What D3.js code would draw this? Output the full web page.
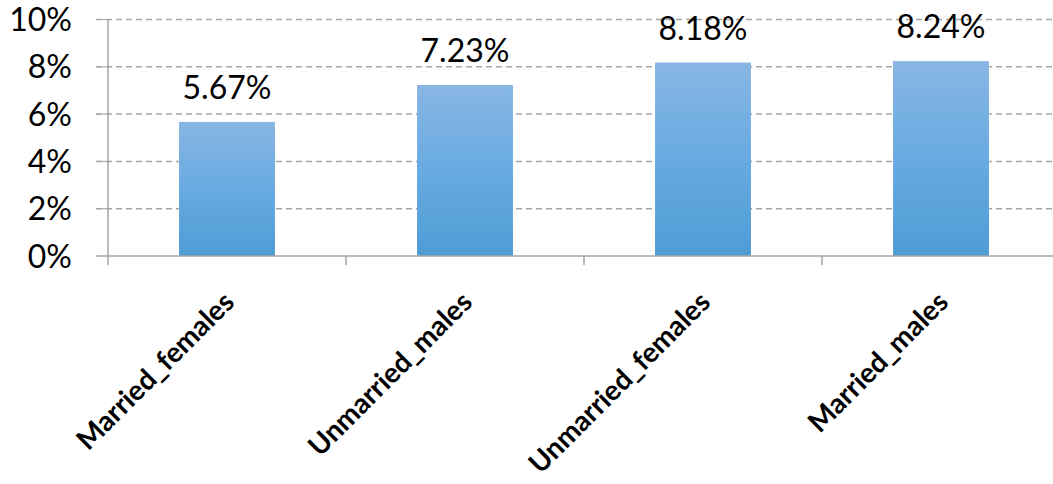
<!DOCTYPE html>
<html>
<head>
<meta charset="utf-8">
<script src="https://cdn.jsdelivr.net/npm/d3@7"></script>
<style>
  body { margin: 0; background: #fff; }
  svg text { font-family: Lato, "Open Sans", sans-serif; fill: #000; }
  .grid line { stroke: #a6a6a6; stroke-width: 1.5; stroke-dasharray: 6,4; }
  .axis path, .axis line { stroke: #a6a6a6; stroke-width: 1.5; }
  .ylabel { font-size: 32px; }
  .value { font-size: 32px; }
  .xlabel { font-size: 28px; font-weight: bold; }
</style>
</head>
<body>
<svg id="chart" width="1053" height="484"></svg>
<script>
var categories = ["Married_females", "Unmarried_males", "Unmarried_females", "Married_males"];
var values = [0.0567, 0.0723, 0.0818, 0.0824];
var valueLabels = ["5.67%", "7.23%", "8.18%", "8.24%"];
var yTicks = [0, 0.02, 0.04, 0.06, 0.08, 0.10];

var plotLeft = 108, plotRight = 1060, plotTop = 19.5, plotBottom = 256;

var svg = d3.select("#chart");

var x = d3.scaleBand()
    .domain(categories)
    .range([plotLeft, plotRight])
    .paddingInner(0.597)
    .paddingOuter(0.2985);

var y = d3.scaleLinear()
    .domain([0, 0.10])
    .range([plotBottom, plotTop]);

// bar gradient
var grad = svg.append("defs").append("linearGradient")
    .attr("id", "barGrad")
    .attr("x1", 0).attr("y1", 0).attr("x2", 0).attr("y2", 1);
grad.append("stop").attr("offset", "0%").attr("stop-color", "#88b6e3");
grad.append("stop").attr("offset", "50%").attr("stop-color", "#68aae2");
grad.append("stop").attr("offset", "100%").attr("stop-color", "#4f9cd5");

// gridlines
svg.append("g")
    .attr("class", "grid")
    .selectAll("line")
    .data(yTicks.slice(1))
    .enter().append("line")
    .attr("x1", plotLeft - 12)
    .attr("x2", plotRight)
    .attr("y1", function(d) { return y(d); })
    .attr("y2", function(d) { return y(d); });

// y tick labels
svg.append("g")
    .selectAll("text")
    .data(yTicks)
    .enter().append("text")
    .attr("class", "ylabel")
    .attr("x", 72)
    .attr("y", function(d) { return y(d); })
    .attr("dy", "0.36em")
    .attr("text-anchor", "end")
    .text(function(d) { return Math.round(d * 100) + "%"; });

// bars
svg.append("g")
    .selectAll("rect")
    .data(values)
    .enter().append("rect")
    .attr("x", function(d, i) { return x(categories[i]); })
    .attr("y", function(d) { return y(d); })
    .attr("width", x.bandwidth())
    .attr("height", function(d) { return y(0) - y(d); })
    .attr("fill", "url(#barGrad)");

// value labels
svg.append("g")
    .selectAll("text")
    .data(values)
    .enter().append("text")
    .attr("class", "value")
    .attr("x", function(d, i) { return x(categories[i]) + x.bandwidth() / 2; })
    .attr("y", function(d) { return y(d) - 23; })
    .attr("text-anchor", "middle")
    .text(function(d, i) { return valueLabels[i]; });

// axes
var axis = svg.append("g").attr("class", "axis");
axis.append("line")
    .attr("x1", plotLeft).attr("x2", plotLeft)
    .attr("y1", plotTop).attr("y2", plotBottom + 9);
axis.append("line")
    .attr("x1", plotLeft - 12).attr("x2", plotRight)
    .attr("y1", plotBottom).attr("y2", plotBottom);
axis.append("g")
    .selectAll("line")
    .data(yTicks.slice(1))
    .enter().append("line")
    .attr("x1", plotLeft - 12).attr("x2", plotLeft)
    .attr("y1", function(d) { return y(d); })
    .attr("y2", function(d) { return y(d); })
    .style("stroke-width", 1);
axis.append("g")
    .selectAll("line")
    .data(categories)
    .enter().append("line")
    .attr("x1", function(d) { return x(d) - x.step() * x.paddingInner() / 2 + x.step(); })
    .attr("x2", function(d) { return x(d) - x.step() * x.paddingInner() / 2 + x.step(); })
    .attr("y1", plotBottom).attr("y2", plotBottom + 9);

// category labels
svg.append("g")
    .selectAll("text")
    .data(categories)
    .enter().append("text")
    .attr("class", "xlabel")
    .attr("text-anchor", "end")
    .attr("transform", function(d) {
      var cx = x(d) + x.bandwidth() / 2 - 5;
      return "translate(" + cx + "," + 290 + ") rotate(-45)";
    })
    .attr("dy", "0.7em")
    .text(function(d) { return d; });
</script>
</body>
</html>
